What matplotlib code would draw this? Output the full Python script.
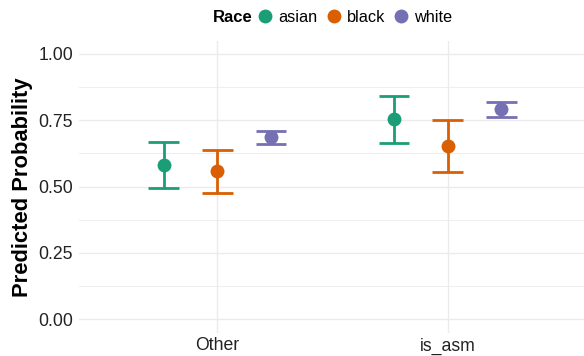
import matplotlib
matplotlib.use("Agg")
import matplotlib.pyplot as plt
from matplotlib.lines import Line2D
import numpy as np

# Predicted probabilities with confidence limits
categories = ["Other", "is_asm"]
races = ["asian", "black", "white"]
colors = ["#1B9E77", "#D95F02", "#7570B3"]

estimate = {
    "asian": [0.582, 0.754],
    "black": [0.558, 0.653],
    "white": [0.686, 0.792],
}
lower = {
    "asian": [0.495, 0.665],
    "black": [0.477, 0.555],
    "white": [0.660, 0.763],
}
upper = {
    "asian": [0.668, 0.843],
    "black": [0.638, 0.750],
    "white": [0.711, 0.819],
}

yticks = [0.00, 0.25, 0.50, 0.75, 1.00]
ytick_labels = ["0.00", "0.25", "0.50", "0.75", "1.00"]

plt.rcParams["font.family"] = ["Liberation Sans", "DejaVu Sans"]

W, H = 584, 356
fig = plt.figure(figsize=(W / 100, H / 100), dpi=100)
left_px, right_px, top_px, bottom_px = 79, 586, 40.7, 332.6
ax = fig.add_axes([left_px / W, (H - bottom_px) / H,
                   (right_px - left_px) / W, (bottom_px - top_px) / H])

dodge = 0.7 / 3
cap_half = 0.067
x_base = np.arange(1, len(categories) + 1)

for i, (race, col) in enumerate(zip(races, colors)):
    xs = x_base + (i - 1) * dodge
    est = np.array(estimate[race])
    lo = np.array(lower[race])
    hi = np.array(upper[race])
    ax.vlines(xs, lo, hi, color=col, lw=2.0, zorder=3)
    ax.hlines(lo, xs - cap_half, xs + cap_half, color=col, lw=2.0, zorder=3)
    ax.hlines(hi, xs - cap_half, xs + cap_half, color=col, lw=2.0, zorder=3)
    ax.plot(xs, est, "o", color=col, ms=10, mec="none", zorder=4)

ax.set_xlim(0.4, 2.6)
ax.set_ylim(-0.05, 1.05)
ax.set_xticks(x_base)
ax.set_xticklabels(categories)
ax.set_yticks(yticks)
ax.set_yticklabels(ytick_labels)
ax.set_yticks([0.125, 0.375, 0.625, 0.875], minor=True)

ax.grid(True, which="major", color="#EBEBEB", lw=1.0)
ax.grid(True, which="minor", axis="y", color="#EBEBEB", lw=0.6)
ax.set_axisbelow(True)
for s in ax.spines.values():
    s.set_visible(False)
ax.tick_params(which="both", length=0)
ax.tick_params(axis="y", pad=4.3, labelsize=12.7, labelcolor="#222222")
ax.tick_params(axis="x", pad=3.5, labelsize=12.7, labelcolor="#222222")

fig.text(23 / W, 1 - 187 / H, "Predicted Probability", rotation=90,
         ha="center", va="center", fontsize=15.8, fontweight="bold")

# Legend across the top
handles = [Line2D([], [], marker="o", ls="none", color=c, ms=10, mec="none")
           for c in colors]
fig.text(212.7 / W, 1 - 17 / H, "Race", ha="left", va="center",
         fontsize=12, fontweight="bold")
fig.legend(handles, races, ncol=3, loc="center left",
           bbox_to_anchor=(258 / W, 1 - 17 / H), frameon=False,
           fontsize=11.7, handlelength=0.9, handletextpad=0.35,
           columnspacing=0.55, borderpad=0, borderaxespad=0)

fig.savefig("out.png", dpi=100)
